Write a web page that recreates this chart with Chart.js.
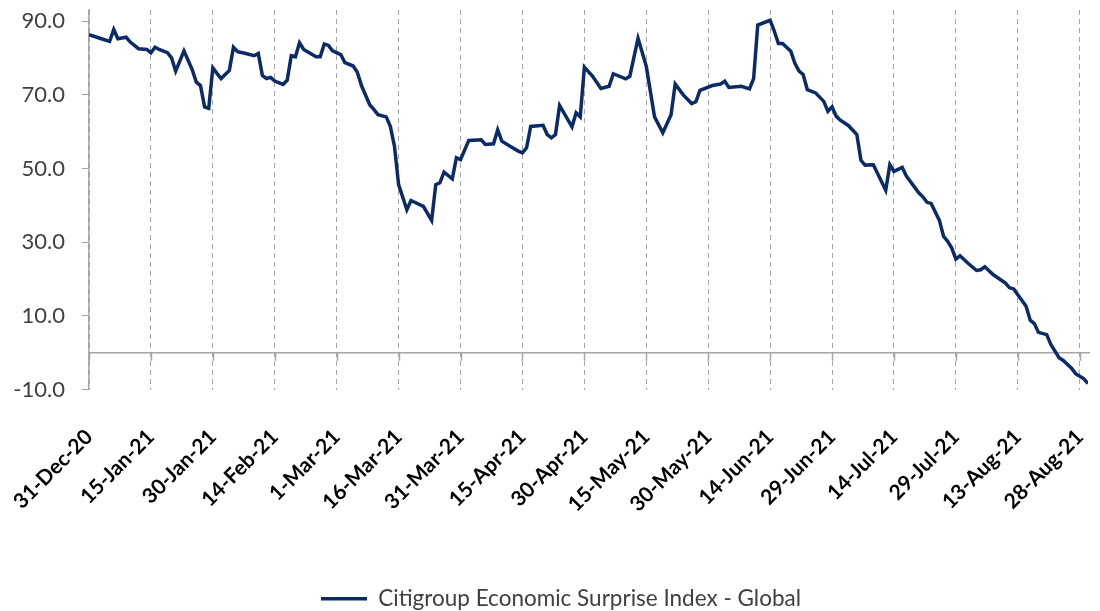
<!DOCTYPE html>
<html>
<head>
<meta charset="utf-8">
<script src="https://cdn.jsdelivr.net/npm/chart.js@4.4.1/dist/chart.umd.min.js"></script>
<style>
html,body{margin:0;padding:0;background:#ffffff;}
#c{display:block;}
</style>
</head>
<body>
<canvas id="c" width="1100" height="611"></canvas>
<script>
// ---- Data ----
const seriesName = 'Citigroup Economic Surprise Index - Global';
const dates = [
 '2020-12-31','2021-01-03','2021-01-05','2021-01-06','2021-01-07','2021-01-09','2021-01-10','2021-01-12','2021-01-14','2021-01-15',
 '2021-01-16','2021-01-17','2021-01-19','2021-01-20','2021-01-21','2021-01-23','2021-01-25','2021-01-26','2021-01-27','2021-01-28',
 '2021-01-29','2021-01-30','2021-01-31','2021-02-01','2021-02-03','2021-02-04','2021-02-05','2021-02-07','2021-02-09','2021-02-10',
 '2021-02-11','2021-02-12','2021-02-13','2021-02-14','2021-02-16','2021-02-17','2021-02-18','2021-02-19','2021-02-20','2021-02-21',
 '2021-02-24','2021-02-25','2021-02-26','2021-02-27','2021-02-28','2021-03-02','2021-03-03','2021-03-05','2021-03-06','2021-03-07',
 '2021-03-09','2021-03-10','2021-03-11','2021-03-13','2021-03-14','2021-03-15','2021-03-16','2021-03-18','2021-03-19','2021-03-22',
 '2021-03-24','2021-03-25','2021-03-26','2021-03-27','2021-03-29','2021-03-30','2021-03-31','2021-04-02','2021-04-05','2021-04-06',
 '2021-04-08','2021-04-09','2021-04-10','2021-04-12','2021-04-14','2021-04-15','2021-04-16','2021-04-17','2021-04-20','2021-04-21',
 '2021-04-22','2021-04-23','2021-04-24','2021-04-27','2021-04-28','2021-04-29','2021-04-30','2021-05-02','2021-05-04','2021-05-06',
 '2021-05-07','2021-05-10','2021-05-11','2021-05-13','2021-05-15','2021-05-17','2021-05-19','2021-05-21','2021-05-22','2021-05-24',
 '2021-05-26','2021-05-27','2021-05-28','2021-05-31','2021-06-02','2021-06-03','2021-06-04','2021-06-07','2021-06-09','2021-06-10',
 '2021-06-11','2021-06-14','2021-06-15','2021-06-16','2021-06-17','2021-06-19','2021-06-20','2021-06-21','2021-06-22','2021-06-23',
 '2021-06-25','2021-06-27','2021-06-28','2021-06-29','2021-06-30','2021-07-01','2021-07-03','2021-07-05','2021-07-06','2021-07-07',
 '2021-07-09','2021-07-12','2021-07-13','2021-07-14','2021-07-16','2021-07-17','2021-07-20','2021-07-21','2021-07-22','2021-07-23',
 '2021-07-25','2021-07-26','2021-07-27','2021-07-28','2021-07-29','2021-07-30','2021-08-01','2021-08-03','2021-08-04','2021-08-05',
 '2021-08-07','2021-08-10','2021-08-11','2021-08-12','2021-08-15','2021-08-16','2021-08-17','2021-08-18','2021-08-20','2021-08-21',
 '2021-08-23','2021-08-24','2021-08-26','2021-08-27','2021-08-29','2021-08-30'
];
const values = [
 86.3,85.2,84.5,87.7,85.2,85.6,84.3,82.5,82.3,81.4,
 82.9,82.3,81.4,80.0,76.4,81.9,76.8,73.4,72.5,66.7,
 66.3,77.3,75.8,74.4,76.6,82.9,81.7,81.2,80.6,81.2,
 75.2,74.4,74.7,73.7,72.8,73.9,80.6,80.3,84.1,82.3,
 80.3,80.3,83.8,83.4,81.9,80.9,78.7,77.8,76.1,72.5,
 67.3,66.0,64.6,64.0,61.4,56.0,45.6,38.8,41.3,39.7,
 35.9,45.6,46.1,49.0,47.2,52.9,52.4,57.6,57.8,56.5,
 56.7,60.5,57.4,56.0,54.7,54.2,55.6,61.4,61.7,59.2,
 58.3,59.2,67.1,61.3,65.1,64.0,77.5,75.0,71.7,72.3,
 75.7,74.3,75.0,85.3,77.7,64.0,59.7,64.6,72.9,69.9,
 67.6,68.1,71.2,72.5,72.9,73.7,72.0,72.3,71.6,74.4,
 88.9,90.2,87.3,83.9,83.9,81.8,78.5,76.4,75.5,71.4,
 70.5,68.2,65.5,66.7,64.2,63.1,61.6,59.2,52.2,50.9,
 51.0,44.1,51.0,49.2,50.3,47.9,43.4,42.3,40.8,40.5,
 35.9,31.6,30.2,28.4,25.4,26.3,24.2,22.3,22.5,23.3,
 21.2,18.9,17.6,17.3,12.6,8.8,7.9,5.5,4.9,2.2,
 -1.4,-2.1,-4.2,-5.7,-7.1,-8.4
];
const xTickLabels = ['31-Dec-20','15-Jan-21','30-Jan-21','14-Feb-21','1-Mar-21','16-Mar-21','31-Mar-21','15-Apr-21',
 '30-Apr-21','15-May-21','30-May-21','14-Jun-21','29-Jun-21','14-Jul-21','29-Jul-21','13-Aug-21','28-Aug-21'];
const yTickValues = [-10, 10, 30, 50, 70, 90];
const yMin = -10, yMax = 93;

// ---- Helpers ----
const MS_DAY = 86400000;
const t0 = Date.parse(dates[0]);
const dayOf = iso => Math.round((Date.parse(iso) - t0) / MS_DAY);
const MONTHS = {Jan:1,Feb:2,Mar:3,Apr:4,May:5,Jun:6,Jul:7,Aug:8,Sep:9,Oct:10,Nov:11,Dec:12};
const labelToIso = s => { const [d,m,y] = s.split('-'); return '20'+y+'-'+String(MONTHS[m]).padStart(2,'0')+'-'+String(d).padStart(2,'0'); };
const tickDays = xTickLabels.map(l => dayOf(labelToIso(l)));
const points = dates.map((d,i) => ({x: dayOf(d), y: values[i]}));

const NAVY = '#0b2a68';
const GRAY = '#a6a6a6';
const FONT = 'Lato';

const zeroAxis = {
  id: 'zeroAxis',
  beforeDatasetsDraw(chart) {
    const {ctx, chartArea, scales: {x, y}} = chart;
    const y0 = y.getPixelForValue(0);
    ctx.save();
    ctx.strokeStyle = GRAY;
    ctx.lineWidth = 1.5;
    ctx.setLineDash([]);
    ctx.beginPath();
    ctx.moveTo(chartArea.left, y0);
    ctx.lineTo(chartArea.right + 2, y0);
    tickDays.forEach(v => {
      const px = Math.round(x.getPixelForValue(v)) + 0.5;
      ctx.moveTo(px, y0);
      ctx.lineTo(px, y0 + 8);
    });
    ctx.stroke();
    ctx.restore();
  }
};

const legendShift = {
  id: 'legendShift',
  afterLayout(chart) {
    if (chart.legend) { chart.legend.left += 17; chart.legend.right += 17; }
  }
};

const noPad = s => { s.paddingLeft = 0; s.paddingRight = 0; s.paddingTop = 0; s.paddingBottom = 0; };

function draw() {
  new Chart(document.getElementById('c'), {
    type: 'line',
    data: {
      datasets: [{
        label: seriesName,
        data: points,
        borderColor: NAVY,
        backgroundColor: NAVY,
        borderWidth: 3.5,
        pointRadius: 0,
        tension: 0,
        fill: false
      }]
    },
    options: {
      responsive: false,
      animation: false,
      devicePixelRatio: 1,
      layout: {padding: {left: 0, right: 12, top: 10, bottom: -9}},
      plugins: {
        tooltip: {enabled: false},
        legend: {
          position: 'bottom',
          labels: {
            color: '#404040',
            font: {family: FONT, size: 22.5},
            usePointStyle: true,
            pointStyle: 'line',
            pointStyleWidth: 46,
            boxWidth: 46,
            boxHeight: 22,
            padding: 2
          }
        }
      },
      scales: {
        x: {
          type: 'linear',
          min: 0,
          max: dayOf(dates[dates.length - 1]),
          afterBuildTicks: s => { s.ticks = tickDays.map(v => ({value: v})); },
          afterFit: s => { s.height = 196; noPad(s); },
          grid: {color: GRAY, lineWidth: 1, drawTicks: false, drawOnChartArea: true},
          border: {display: false, dash: [5, 4]},
          ticks: {
            autoSkip: false,
            minRotation: 45,
            maxRotation: 45,
            padding: 35,
            color: '#000000',
            font: {family: FONT, size: 21, weight: 'bold'},
            callback: (v, i) => xTickLabels[i]
          }
        },
        y: {
          min: yMin,
          max: yMax,
          afterBuildTicks: s => { s.ticks = yTickValues.map(v => ({value: v})); },
          afterFit: s => { s.width = 89; noPad(s); },
          grid: {color: GRAY, drawOnChartArea: false, drawTicks: true, tickLength: 7},
          border: {display: true, color: GRAY, width: 1.5},
          ticks: {
            color: '#404040',
            padding: 17,
            font: {family: FONT, size: 22},
            callback: v => Number(v).toFixed(1)
          }
        }
      }
    },
    plugins: [zeroAxis, legendShift]
  });
}

Promise.all([
  document.fonts.load('20px Lato'),
  document.fonts.load('bold 20px Lato')
]).then(draw, draw);
</script>
</body>
</html>
